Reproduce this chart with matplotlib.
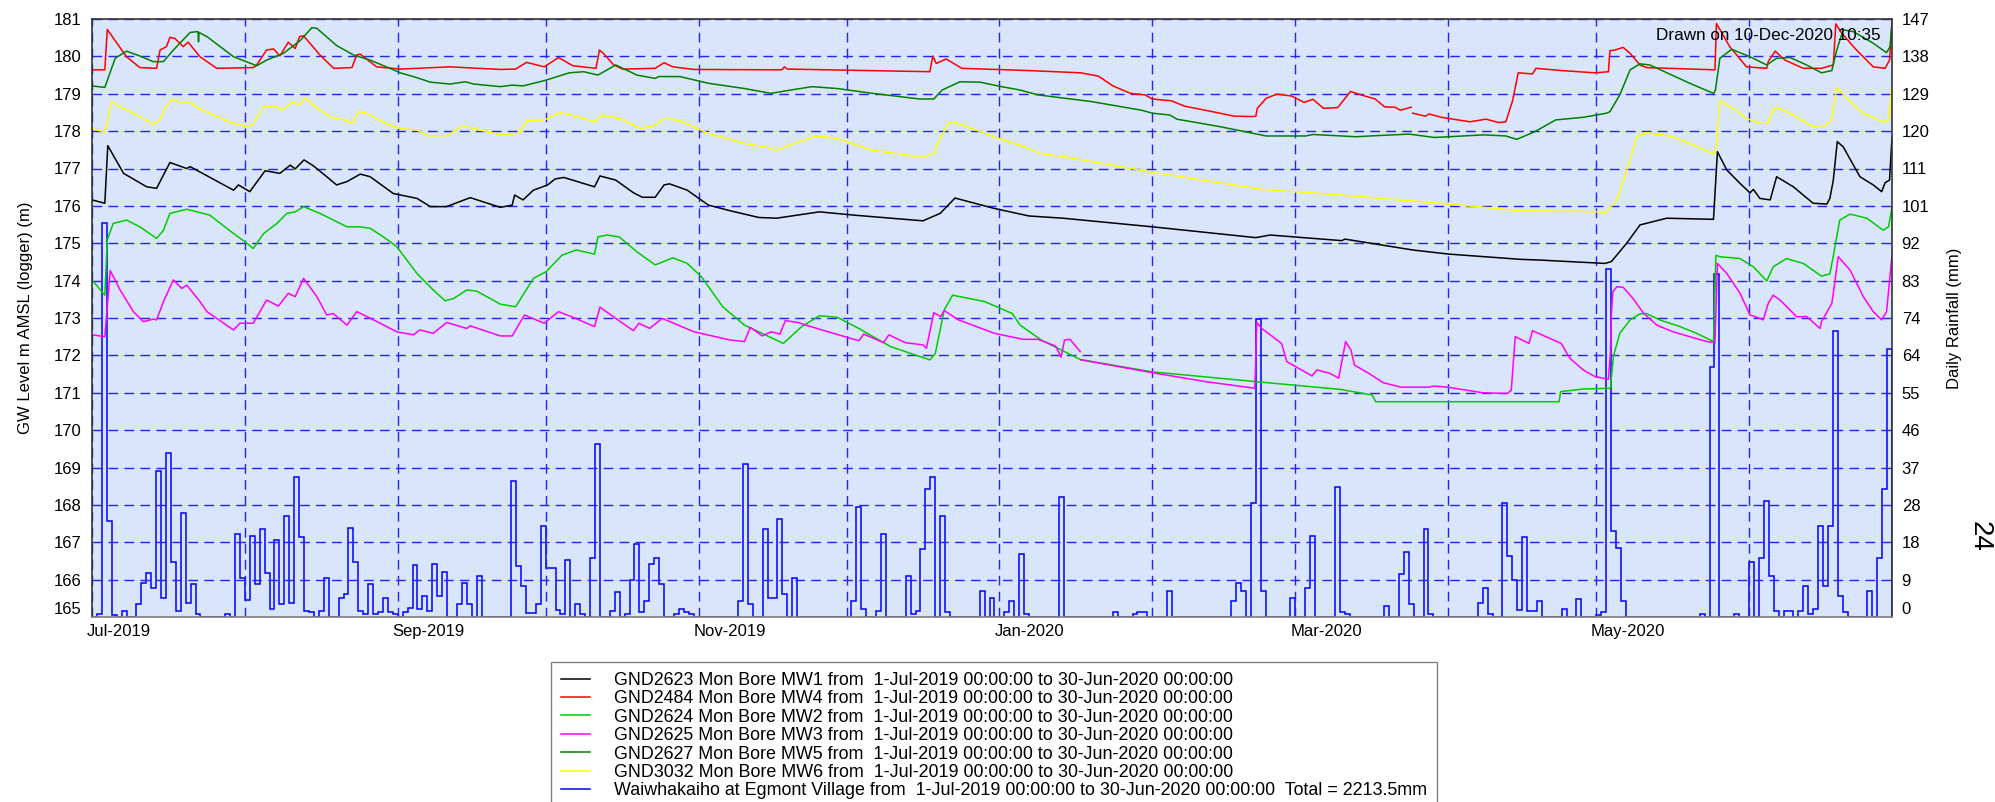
import numpy as np
import matplotlib
matplotlib.use("Agg")
import matplotlib.pyplot as plt
import matplotlib.dates as mdates
from matplotlib.transforms import ScaledTranslation
from datetime import datetime

plt.rcParams['font.family'] = ['Liberation Sans', 'DejaVu Sans']

START = datetime(2019, 7, 1)
N_DAYS = 365

# ---------------- data (day offsets from 1-Jul-2019) ----------------
mw1_day = [0, 2.6, 3.2, 6.4, 11.1, 13.1, 15.8, 19.2, 19.9, 28.7, 29.7, 32.0, 35.1, 38.1, 40.2, 41.2, 43.0, 44.9,
           47.6, 49.6, 51.7, 54.4, 56.4, 61.1, 65.9, 68.6, 71.9, 76.7, 82.8, 85.2, 85.7, 87.4, 89.5, 92.4, 93.9,
           95.7, 101.9, 103.0, 106.2, 109.8, 111.6, 114.2, 116.0, 117.1, 120.7, 125.0, 129.4, 135.2, 138.8, 147.5,
           154.7, 168.5, 172.0, 175.0, 183.0, 190.0, 196.9, 215.0, 236.0, 238.9, 253.4, 254.1, 267.8, 275.1, 289.6,
           293.6, 306.8, 308.1, 311.2, 313.9, 319.3, 328.8, 329.6, 331.5, 334.2, 336.2, 336.9, 338.2, 340.3, 341.6,
           345.0, 349.0, 351.8, 352.4, 353.1, 353.9, 355.1, 358.5, 361.2, 362.9, 363.6, 364.5, 365.0]
mw1_lvl = [176.16, 176.07, 177.61, 176.87, 176.51, 176.47, 177.16, 177.0, 177.05, 176.42, 176.56, 176.38, 176.94,
           176.87, 177.09, 176.99, 177.23, 177.07, 176.78, 176.56, 176.65, 176.85, 176.78, 176.33, 176.2, 175.98,
           175.98, 176.22, 175.96, 176.02, 176.29, 176.16, 176.42, 176.56, 176.72, 176.76, 176.51, 176.8, 176.69,
           176.35, 176.23, 176.23, 176.56, 176.59, 176.42, 176.02, 175.87, 175.69, 175.67, 175.84, 175.75, 175.6,
           175.8, 176.21, 175.93, 175.73, 175.67, 175.44, 175.15, 175.22, 175.07, 175.11, 174.82, 174.71, 174.57,
           174.55, 174.46, 174.51, 175.0, 175.49, 175.67, 175.64, 177.45, 176.96, 176.6, 176.35, 176.44, 176.2,
           176.16, 176.78, 176.51, 176.07, 176.05, 176.2, 176.69, 177.72, 177.58, 176.78, 176.56, 176.38, 176.62,
           176.69, 177.85]

mw4_day = [0, 2.6, 3.1, 7.0, 9.7, 13.1, 13.8, 15.1, 15.8, 16.8, 18.5, 19.5, 21.9, 25.3, 32.7, 33.4, 35.4, 36.8,
           38.1, 39.8, 41.2, 42.1, 42.9, 46.2, 49.0, 52.7, 53.7, 54.4, 57.7, 62.5, 72.6, 82.8, 85.9, 88.1, 91.7,
           94.6, 97.5, 102.2, 102.9, 103.7, 105.8, 107.6, 114.2, 116.0, 117.8, 122.1, 139.9, 140.4, 141.0, 169.9,
           170.5, 171.2, 173.2, 176.4, 190.0, 200.5, 204.1, 207.0, 210.6, 213.5, 215.0, 218.9, 221.5, 228.7, 231.6,
           235.3, 236.0, 236.3, 238.1, 240.3, 243.2, 245.8, 247.6, 249.7, 252.6, 255.2, 258.1, 260.2, 262.1, 264.2,
           265.3, 267.5, 267.6, 267.8, 270.4, 271.1, 273.6, 279.4, 282.7, 285.2, 286.7, 288.1, 289.2, 292.1, 292.8,
           298.0, 304.8, 307.5, 307.8, 308.8, 310.5, 311.9, 313.9, 315.2, 329.1, 329.4, 332.1, 335.5, 339.6, 339.9,
           341.3, 343.3, 347.0, 350.7, 353.1, 353.6, 354.8, 357.8, 361.2, 363.6, 364.5, 365.0]
mw4_lvl = [179.64, 179.64, 180.72, 179.99, 179.7, 179.68, 180.17, 180.26, 180.51, 180.48, 180.26, 180.38, 179.99,
           179.68, 179.7, 179.77, 180.17, 180.2, 180.01, 180.38, 180.21, 180.53, 180.55, 180.04, 179.68, 179.7,
           180.04, 180.06, 179.72, 179.66, 179.72, 179.65, 179.66, 179.84, 179.72, 179.97, 179.75, 179.68, 180.17,
           180.08, 179.77, 179.66, 179.68, 179.83, 179.72, 179.65, 179.64, 179.72, 179.66, 179.59, 180.01, 179.81,
           179.93, 179.68, 179.62, 179.56, 179.47, 179.21, 179.01, 178.97, 178.86, 178.81, 178.67, 178.48, 178.4,
           178.39, 178.4, 178.61, 178.88, 178.99, 178.94, 178.77, 178.85, 178.61, 178.63, 179.06, 178.94, 178.86,
           178.65, 178.64, 178.56, 178.64, np.nan, 178.48, 178.4, 178.46, 178.37, 178.25, 178.32, 178.23, 178.25,
           178.83, 179.56, 179.53, 179.68, 179.62, 179.56, 179.59, 180.15, 180.17, 180.24, 180.08, 179.77, 179.7,
           179.64, 180.88, 180.26, 179.72, 179.68, 179.86, 180.14, 179.9, 179.68, 179.68, 179.77, 180.87, 180.62,
           180.17, 179.72, 179.68, 179.9, 180.93]

mw2_day = [0, 2.6, 3.1, 4.3, 7.0, 9.7, 13.1, 14.5, 15.8, 19.2, 23.9, 28.7, 31.4, 32.7, 34.8, 37.5, 39.5, 41.2,
           42.9, 46.2, 51.7, 54.4, 56.4, 59.1, 61.8, 65.9, 69.2, 71.6, 73.3, 76.0, 78.0, 82.8, 85.9, 89.5, 92.1,
           95.3, 98.2, 101.9, 102.6, 104.4, 106.9, 110.5, 114.2, 117.8, 120.7, 123.6, 127.9, 132.3, 140.2, 143.9,
           147.5, 151.1, 155.5, 162.0, 169.9, 171.0, 172.8, 174.5, 181.0, 186.6, 188.2, 192.5, 200.4, 214.9, 235.8,
           253.1, 259.6, 260.3, 297.5, 297.8, 302.4, 307.9, 308.5, 309.8, 311.9, 313.9, 315.2, 317.9, 322.0, 325.4,
           328.8, 329.3, 330.1, 334.2, 336.9, 339.6, 340.9, 343.6, 347.0, 350.7, 352.4, 353.2, 354.4, 356.5, 359.9,
           363.2, 364.3, 365.0]
mw2_lvl = [174.02, 173.61, 175.09, 175.53, 175.62, 175.44, 175.13, 175.35, 175.8, 175.91, 175.75, 175.26, 175.0,
           174.86, 175.26, 175.53, 175.8, 175.84, 175.98, 175.8, 175.44, 175.44, 175.4, 175.17, 174.91, 174.19,
           173.75, 173.46, 173.52, 173.75, 173.72, 173.37, 173.3, 174.06, 174.24, 174.68, 174.82, 174.71, 175.17,
           175.22, 175.17, 174.77, 174.42, 174.61, 174.46, 174.1, 173.3, 172.81, 172.32, 172.77, 173.06, 173.02,
           172.72, 172.23, 171.88, 172.05, 173.21, 173.61, 173.44, 173.12, 172.81, 172.41, 171.89, 171.56, 171.3,
           171.09, 170.94, 170.76, 170.76, 171.03, 171.1, 171.12, 171.97, 172.59, 172.95, 173.11, 173.12, 172.95,
           172.77, 172.59, 172.37, 174.68, 174.64, 174.59, 174.37, 173.99, 174.37, 174.59, 174.46, 174.12, 174.18,
           174.73, 175.62, 175.78, 175.67, 175.35, 175.44, 175.96]

mw3_day = [0, 2.6, 3.7, 5.7, 8.4, 10.4, 12.4, 13.1, 14.5, 16.5, 18.2, 19.2, 21.9, 23.3, 28.7, 30.0, 32.7, 35.4,
           37.8, 39.8, 41.2, 42.9, 45.6, 47.6, 48.9, 51.7, 53.7, 57.1, 61.8, 65.2, 66.5, 69.2, 71.9, 76.0, 76.7,
           82.8, 85.2, 87.7, 91.7, 94.6, 97.5, 101.9, 103.0, 106.2, 109.8, 110.9, 113.1, 115.6, 122.1, 129.4, 132.3,
           133.5, 135.9, 137.7, 139.5, 140.6, 143.1, 147.5, 155.5, 156.5, 160.5, 161.6, 164.9, 168.5, 169.2, 170.7,
           172.1, 172.8, 175.7, 183.0, 188.8, 191.8, 195.4, 196.5, 197.2, 198.3, 200.4, 200.45, 200.5, 214.9,
           225.7, 235.8, 236.2, 237.2, 241.2, 242.3, 245.9, 247.4, 248.4, 251.0, 252.8, 254.2, 255.3, 256.0, 258.9,
           261.8, 265.4, 271.2, 271.9, 274.8, 282.0, 287.0, 287.8, 288.6, 291.4, 292.1, 297.9, 299.7, 302.4, 304.8,
           307.5, 307.9, 308.1, 308.4, 309.2, 310.5, 312.5, 314.6, 317.3, 320.6, 324.0, 327.4, 329.1, 329.6, 331.5,
           334.2, 336.2, 338.2, 338.9, 339.9, 340.9, 342.3, 345.7, 347.7, 350.4, 350.7, 352.8, 353.1, 354.1, 356.5,
           359.2, 361.2, 362.9, 363.9, 365.0]
mw3_lvl = [172.55, 172.5, 174.27, 173.75, 173.17, 172.9, 172.97, 172.95, 173.44, 174.02, 173.79, 173.88, 173.44,
           173.17, 172.68, 172.86, 172.86, 173.48, 173.32, 173.66, 173.57, 174.06, 173.57, 173.08, 173.12, 172.81,
           173.17, 172.95, 172.63, 172.55, 172.68, 172.59, 172.88, 172.72, 172.79, 172.52, 172.52, 173.08, 172.86,
           173.17, 173.02, 172.77, 173.29, 172.99, 172.66, 172.86, 172.72, 172.99, 172.63, 172.41, 172.37, 172.75,
           172.52, 172.63, 172.57, 172.93, 172.88, 172.7, 172.39, 172.57, 172.34, 172.55, 172.34, 172.28, 172.19,
           173.14, 173.04, 173.2, 172.95, 172.59, 172.43, 172.43, 172.25, 171.95, 172.41, 172.43, 172.1, np.nan,
           171.88, 171.54, 171.3, 171.12, 172.88, 172.72, 172.32, 171.83, 171.56, 171.45, 171.61, 171.52, 171.39,
           172.37, 172.14, 171.74, 171.52, 171.27, 171.15, 171.15, 171.18, 171.15, 171.0, 170.98, 171.07, 172.5,
           172.32, 172.66, 172.32, 171.92, 171.61, 171.43, 171.36, 172.06, 173.13, 173.7, 173.84, 173.82, 173.52,
           173.13, 172.81, 172.63, 172.5, 172.37, 172.34, 174.46, 174.19, 173.66, 173.08, 172.99, 172.95, 173.39,
           173.61, 173.48, 173.03, 173.04, 172.72, 172.9, 173.39, 173.66, 174.64, 174.28, 173.57, 173.17, 172.95,
           173.17, 174.68]

mw5_day = [0, 2.6, 4.7, 7.0, 9.7, 12.4, 14.5, 16.5, 19.9, 21.2, 21.5, 21.6, 21.7, 23.3, 28.7, 33.4, 35.4, 38.8,
           42.2, 44.6, 45.6, 49.6, 53.0, 56.4, 60.4, 62.5, 65.9, 68.6, 72.6, 75.7, 77.4, 82.8, 85.2, 87.4, 91.7,
           96.8, 99.7, 102.6, 106.2, 110.5, 114.2, 114.9, 119.2, 125.0, 132.3, 137.7, 141.7, 146.0, 151.1, 158.3,
           167.8, 170.7, 172.4, 176.0, 180.1, 184.4, 188.2, 191.8, 202.7, 212.8, 215.0, 218.6, 220.0, 228.7, 238.1,
           246.1, 247.6, 256.3, 260.6, 267.1, 272.2, 282.3, 286.7, 288.9, 292.5, 296.8, 302.4, 307.1, 307.8, 309.8,
           311.9, 313.9, 315.9, 324.0, 328.8, 329.2, 330.1, 332.5, 336.2, 339.6, 341.6, 344.3, 347.7, 350.7, 352.8,
           353.8, 355.1, 357.2, 361.2, 363.9, 364.6, 365.0]
mw5_lvl = [179.21, 179.17, 179.95, 180.14, 180.01, 179.86, 179.86, 180.17, 180.64, 180.66, 180.66, 180.39, 180.64,
           180.53, 179.99, 179.75, 179.9, 180.08, 180.42, 180.77, 180.75, 180.29, 180.04, 179.9, 179.68, 179.56,
           179.43, 179.31, 179.26, 179.32, 179.26, 179.19, 179.23, 179.21, 179.35, 179.56, 179.59, 179.5, 179.77,
           179.5, 179.41, 179.46, 179.46, 179.28, 179.14, 179.01, 179.1, 179.19, 179.14, 179.01, 178.86, 178.86,
           179.1, 179.32, 179.31, 179.19, 179.1, 178.97, 178.79, 178.56, 178.48, 178.43, 178.32, 178.12, 177.87,
           177.87, 177.91, 177.85, 177.88, 177.92, 177.83, 177.9, 177.87, 177.78, 177.98, 178.3, 178.37, 178.48,
           178.52, 178.97, 179.64, 179.8, 179.77, 179.28, 179.01, 179.1, 179.95, 180.19, 179.99, 179.77, 179.95,
           179.97, 179.77, 179.56, 179.62, 180.17, 180.71, 180.66, 180.35, 180.1, 180.26, 180.88]

mw6_day = [0, 2.6, 4.0, 5.7, 8.4, 12.4, 13.8, 14.5, 16.2, 18.5, 19.9, 21.6, 25.3, 28.7, 31.4, 32.7, 34.8, 37.5,
           38.5, 40.8, 41.9, 43.2, 46.2, 49.0, 51.0, 53.0, 54.0, 55.7, 59.1, 62.5, 65.9, 68.2, 71.9, 75.3, 78.0,
           82.8, 86.6, 88.1, 91.7, 95.0, 98.2, 102.2, 103.3, 106.9, 111.3, 114.2, 116.0, 119.2, 125.0, 132.3, 136.6,
           138.8, 142.4, 146.8, 151.1, 158.3, 168.5, 170.8, 171.8, 173.8, 175.6, 183.7, 188.2, 192.5, 196.9, 215.0,
           237.4, 253.4, 275.1, 289.6, 307.1, 309.2, 311.5, 313.2, 315.2, 320.6, 324.7, 328.8, 329.4, 330.1, 332.8,
           335.5, 338.2, 339.9, 340.9, 342.3, 345.0, 349.0, 351.0, 352.7, 353.8, 356.5, 359.2, 363.2, 364.3, 365.0]
mw6_lvl = [178.07, 177.97, 178.79, 178.65, 178.48, 178.19, 178.3, 178.56, 178.85, 178.74, 178.79, 178.61, 178.39,
           178.21, 178.12, 178.19, 178.65, 178.67, 178.56, 178.79, 178.7, 178.89, 178.56, 178.34, 178.31, 178.21,
           178.52, 178.48, 178.23, 178.07, 178.03, 177.87, 177.88, 178.14, 178.05, 177.9, 177.94, 178.28, 178.3,
           178.5, 178.39, 178.25, 178.43, 178.34, 178.07, 178.16, 178.34, 178.28, 177.94, 177.67, 177.58, 177.49,
           177.67, 177.87, 177.81, 177.49, 177.3, 177.41, 177.76, 178.23, 178.21, 177.81, 177.62, 177.4, 177.32,
           176.9, 176.44, 176.29, 176.05, 175.87, 175.84, 176.16, 177.05, 177.85, 177.96, 177.85, 177.63, 177.39,
           177.58, 178.81, 178.61, 178.34, 178.21, 178.21, 178.61, 178.61, 178.43, 178.12, 178.1, 178.3, 179.17,
           178.79, 178.48, 178.25, 178.3, 179.23]

# daily rainfall (mm), only the days with rain; all other days are 0
rain_day = [1, 2, 3, 4, 6, 9, 10, 11, 12, 13, 14, 15, 16, 17, 18, 19, 20, 21, 27, 29, 30, 31, 32, 33, 34, 35, 36,
            37, 38, 39, 40, 41, 42, 43, 44, 46, 47, 50, 51, 52, 53, 54, 55, 56, 57, 58, 59, 60, 61, 63, 64, 65, 66,
            67, 68, 69, 70, 71, 74, 75, 76, 78,
            85, 86, 87, 88, 89, 90, 91, 92, 93, 94, 95, 96, 98, 99, 101, 102, 105, 106, 108, 109, 110, 111, 112,
            113, 114, 115, 118, 119, 120, 121, 131, 132, 133, 136, 137, 138, 139, 140, 142, 154, 155, 156, 159, 160,
            165, 166, 167, 168, 169, 170, 172, 173, 180, 182, 185, 186, 188, 189,
            196, 207, 211, 212, 213, 218, 231, 232, 233, 235, 236, 237, 243, 246, 247, 252, 253, 254, 262, 265, 266,
            267, 270, 271, 281, 282, 283, 286, 287, 288, 289, 290, 291, 292, 293,
            298, 301, 305, 306, 307, 308, 309, 310, 326, 328, 329, 333, 336, 338, 339, 340, 341, 343, 344, 346, 347,
            348, 349, 350, 351, 352, 353, 354, 355, 360, 362, 363, 364]
rain_mm = [0.7, 97.0, 23.7, 0.5, 1.6, 3.1, 8.5, 10.9, 7.1, 36.1, 4.6, 40.5, 13.6, 1.6, 25.6, 3.5, 8.1, 0.7, 0.7,
           20.5, 9.7, 4.2, 20.0, 8.1, 21.6, 10.9, 2.0, 19.1, 3.1, 25.0, 3.5, 34.6, 19.6, 1.6, 1.2, 1.6, 9.5, 4.6,
           5.6, 22.0, 13.5, 1.6, 0.7, 8.1, 0.7, 1.2, 4.6, 1.2, 0.7, 1.2, 2.1, 12.7, 2.0, 5.2, 1.6, 13.1, 5.2, 11.0,
           3.1, 8.5, 3.1, 10.1,
           33.5, 12.6, 7.6, 1.1, 1.1, 3.1, 22.5, 12.2, 12.2, 1.7, 0.7, 14.1, 3.1, 0.7, 14.6, 42.6, 1.6, 6.1, 0.7,
           9.1, 18.0, 1.2, 4.0, 13.1, 14.6, 8.1, 0.7, 2.0, 1.3, 0.7, 4.0, 37.6, 3.1, 21.6, 4.6, 4.6, 24.1, 5.6, 9.5,
           4.0, 27.0, 2.0, 1.6, 20.5, 10.1, 0.7, 1.6, 16.7, 31.6, 34.4, 25.0, 1.2, 6.5, 4.6, 1.2, 4.0, 15.5, 0.7,
           29.5, 1.2, 0.7, 1.2, 1.2, 6.5, 4.0, 8.5, 6.5, 28.0, 73.5, 6.5, 4.6, 7.1, 20.0, 32.0, 1.2, 0.7, 2.7, 10.5,
           15.9, 3.1, 21.6, 0.7, 3.5, 7.1, 0.7, 28.0, 15.1, 9.1, 1.7, 19.6, 1.6, 1.6, 4.0,
           2.0, 4.4, 0.5, 1.2, 85.9, 21.2, 17.1, 4.0, 0.7, 61.5, 84.5, 0.7, 13.5, 14.6, 28.6, 10.1, 1.6, 1.6, 1.6,
           1.6, 7.6, 0.7, 2.0, 22.5, 7.6, 22.5, 70.5, 5.2, 1.2, 6.5, 14.6, 31.6, 66.0]

gw_ticks = list(range(165, 182))
rain_tick_labels = ['0', '9', '18', '28', '37', '46', '55', '64', '74', '83', '92', '101', '111', '120',
                    '129', '138', '147']
RAIN_MAX = 147.4

series = [
    (mw1_day, mw1_lvl, '#000000', 'GND2623 Mon Bore MW1 from  1-Jul-2019 00:00:00 to 30-Jun-2020 00:00:00'),
    (mw4_day, mw4_lvl, '#FF0000', 'GND2484 Mon Bore MW4 from  1-Jul-2019 00:00:00 to 30-Jun-2020 00:00:00'),
    (mw2_day, mw2_lvl, '#00CC00', 'GND2624 Mon Bore MW2 from  1-Jul-2019 00:00:00 to 30-Jun-2020 00:00:00'),
    (mw3_day, mw3_lvl, '#FF00FF', 'GND2625 Mon Bore MW3 from  1-Jul-2019 00:00:00 to 30-Jun-2020 00:00:00'),
    (mw5_day, mw5_lvl, '#008000', 'GND2627 Mon Bore MW5 from  1-Jul-2019 00:00:00 to 30-Jun-2020 00:00:00'),
    (mw6_day, mw6_lvl, '#FFFF00', 'GND3032 Mon Bore MW6 from  1-Jul-2019 00:00:00 to 30-Jun-2020 00:00:00'),
]
rain_label = ('Waiwhakaiho at Egmont Village from  1-Jul-2019 00:00:00 to 30-Jun-2020 00:00:00  '
              'Total = 2213.5mm')

# ---------------- figure ----------------
W_PX, H_PX = 1995, 802
fig = plt.figure(figsize=(W_PX / 100, H_PX / 100), dpi=100)
L, R, T, B = 92, 1892, 19, 617
ax = fig.add_axes([L / W_PX, 1 - B / H_PX, (R - L) / W_PX, (B - T) / H_PX])
ax2 = ax.twinx()
ax.set_zorder(2)
ax2.set_zorder(1)
ax.patch.set_visible(False)
ax2.patch.set_visible(True)
ax2.patch.set_facecolor('#D9E5FA')

base = mdates.date2num(START)

# rainfall daily steps
rain = np.zeros(N_DAYS)
rain[np.array(rain_day)] = rain_mm
edges = base + np.arange(N_DAYS + 1)
ax2.stairs(rain, edges, color='#0000FF', linewidth=1.1, baseline=0)
ax2.set_ylim(0, RAIN_MAX)
ax2.set_yticks([RAIN_MAX * i / 16 for i in range(17)], labels=rain_tick_labels)

handles = []
for d, v, c, lab in series:
    ln, = ax.plot(base + np.array(d), np.array(v, dtype=float), color=c, linewidth=1.1, label=lab)
    handles.append(ln)
rain_handle = matplotlib.lines.Line2D([], [], color='#0000FF', linewidth=1.1)

ax.set_ylim(165, 181)
ax.set_yticks(gw_ticks)
ax.set_xlim(base, base + N_DAYS)
ax.xaxis.set_major_locator(mdates.MonthLocator(bymonth=[1, 3, 5, 7, 9, 11]))
ax.xaxis.set_major_formatter(mdates.DateFormatter('%b-%Y'))
ax.xaxis.set_minor_locator(mdates.MonthLocator())

grid_kw = dict(color='#2323F5', linewidth=1.0, linestyle=(0, (7, 4.5)))
ax.grid(True, which='both', axis='x', **grid_kw)
ax.grid(True, which='major', axis='y', **grid_kw)

ax.tick_params(axis='both', which='both', length=0, labelsize=12)
ax.tick_params(axis='y', pad=7.4)
ax.tick_params(axis='x', pad=5)
ax2.tick_params(axis='y', length=0, labelsize=12, pad=7)

for s in ax2.spines.values():
    s.set_visible(False)
for name, s in ax.spines.items():
    s.set_color('#333333' if name != 'bottom' else '#808080')
    s.set_linewidth(1.2)

ax.set_ylabel('GW Level m AMSL (logger) (m)', fontsize=12)
ax.yaxis.set_label_coords((33 - L) / (R - L), 0.5)
ax2.set_ylabel('Daily Rainfall (mm)', fontsize=12)
ax2.yaxis.set_label_coords((1947 - L) / (R - L), 0.5)

ax.text((1881 - L) / (R - L), (B - 35) / (B - T), 'Drawn on 10-Dec-2020 10:35', transform=ax.transAxes,
        ha='right', va='center', fontsize=12.3, zorder=5)

fig.text(1980 / W_PX, 1 - 536 / H_PX, '24', rotation=-90, fontsize=20, ha='center', va='center')

leg = fig.legend(handles + [rain_handle], [s[3] for s in series] + [rain_label],
                 loc='upper left', bbox_to_anchor=(551 / W_PX, 1 - 662 / H_PX),
                 bbox_transform=fig.transFigure, fontsize=12.9, frameon=True, fancybox=False,
                 edgecolor='#808080', framealpha=1, handlelength=1.62, handletextpad=1.34,
                 labelspacing=0.08, borderpad=0.55, borderaxespad=0)
leg.get_frame().set_linewidth(1.0)

fig.canvas.draw()
# bottom tick labels raised, x labels left-aligned at month starts
ax.yaxis.get_major_ticks()[0].label1.set_va('bottom')
ax2.yaxis.get_major_ticks()[0].label2.set_va('bottom')
off = ScaledTranslation(-5 / 100, 0, fig.dpi_scale_trans)
for lab in ax.get_xticklabels():
    lab.set_ha('left')
    lab.set_transform(lab.get_transform() + off)

fig.savefig('out.png', dpi=100)
